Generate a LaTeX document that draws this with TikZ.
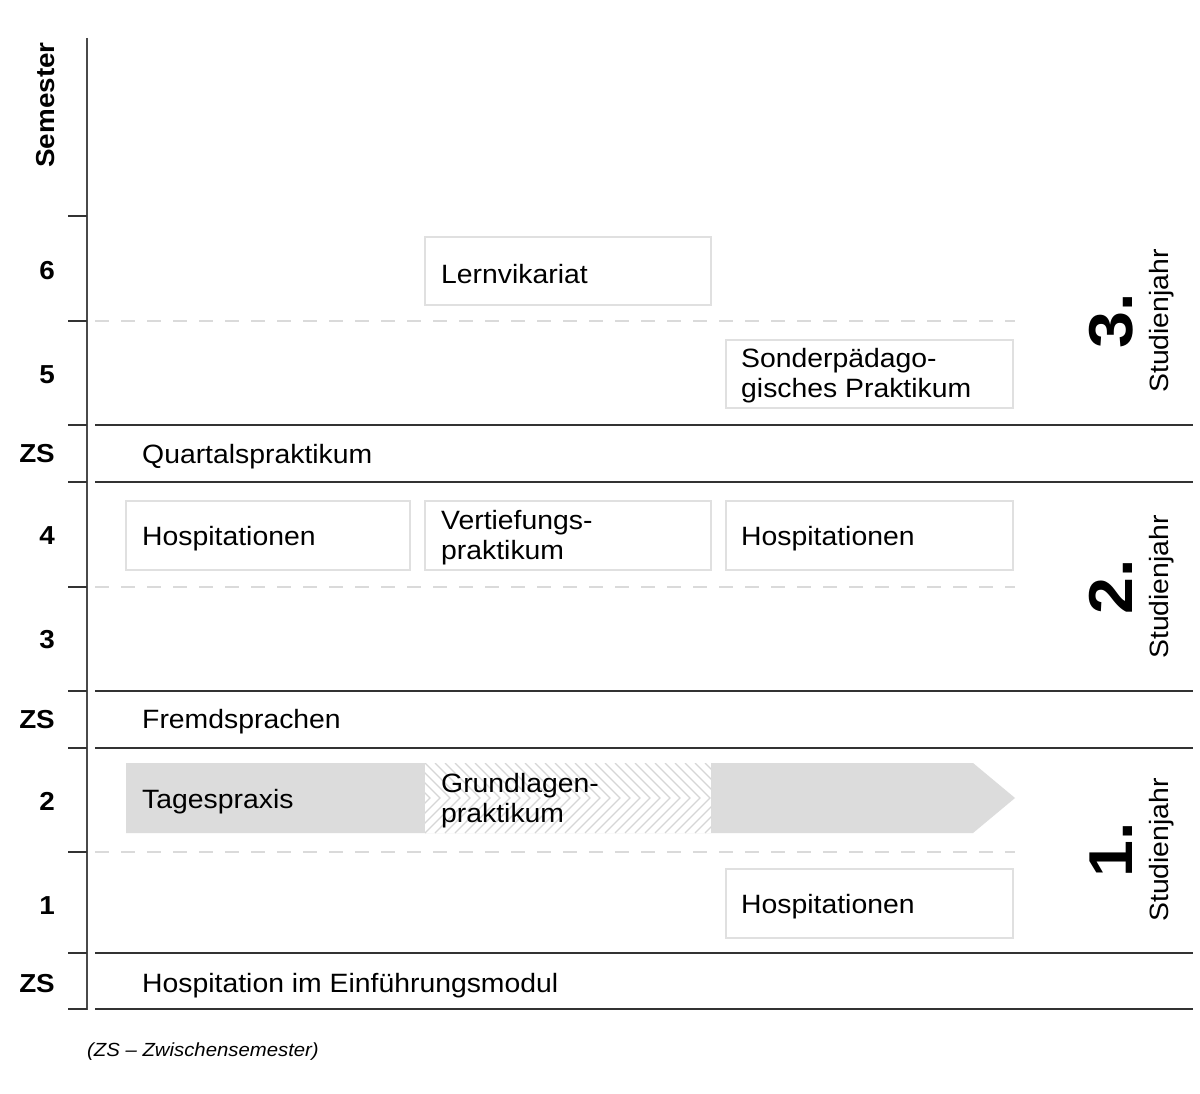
\documentclass[tikz,border=0pt]{standalone}
\usepackage{fontspec}
\setmainfont[FakeStretch=1.07]{Liberation Sans}
\definecolor{axisgray}{HTML}{4A4A4A}
\definecolor{linegray}{HTML}{333333}
\definecolor{boxgray}{HTML}{E0E0E0}
\definecolor{dashgray}{HTML}{DADADA}
\definecolor{fillgray}{HTML}{DCDCDC}
\definecolor{hatchgray}{HTML}{D6D6D6}
\tikzset{
  semlabel/.style={anchor=east, inner sep=0pt, font=\fontsize{26}{30}\selectfont\bfseries},
  item/.style={anchor=west, inner sep=0pt, align=left, font=\fontsize{26.5}{30}\selectfont},
  pbox/.style={draw=boxgray, line width=1.5pt, fill=white},
  rowline/.style={draw=linegray, line width=1.4pt},
  tickline/.style={draw=linegray, line width=1.4pt},
  dashline/.style={draw=dashgray, line width=1.2pt, dash pattern=on 14pt off 12pt},
  yearnum/.style={rotate=90, anchor=base, inner sep=0pt, font=\fontsize{62}{64}\selectfont\bfseries},
  yearword/.style={rotate=90, anchor=base, inner sep=0pt, font=\fontsize{26.5}{28}\selectfont},
}
\begin{document}
\begin{tikzpicture}[x=1pt,y=-1pt]
\useasboundingbox[fill=white] (0,0) rectangle (1200,1094);

% axis
\draw[draw=axisgray, line width=1.6pt] (87,38) -- (87,1010);
\foreach \y in {216,321,425,482,587,691,748,852,953,1009}
  \draw[tickline] (68,\y) -- (87,\y);

% solid row lines
\foreach \y in {425,482,691,748,953,1009}
  \draw[rowline] (95,\y) -- (1193,\y);

% dashed lines
\foreach \y in {321,587,852}
  \draw[dashline] (95,\y) -- (1015,\y);

% semester labels
\node[semlabel, rotate=90, anchor=center] (sem) at (46,105) {Semester};
\node[semlabel] (s6) at (55,271) {6};
\node[semlabel] (s5) at (55,375) {5};
\node[semlabel] (zs3) at (55,454) {ZS};
\node[semlabel] (s4) at (55,536) {4};
\node[semlabel] (s3) at (55,640) {3};
\node[semlabel] (zs2) at (55,720) {ZS};
\node[semlabel] (s2) at (55,801) {2};
\node[semlabel] (s1) at (55,906) {1};
\node[semlabel] (zs1) at (55,984) {ZS};

% boxes
\draw[pbox] (425,237) rectangle (711,305);
\node[item] (lern) at (441,274) {Lernvikariat};
\draw[pbox] (726,340) rectangle (1013,408);
\node[item] (sonder) at (741,376) {Sonderpädago-\\gisches Praktikum};

\node[item] (quartal) at (142,457) {Quartalspraktikum};

\draw[pbox] (126,501) rectangle (410,570);
\node[item] (hosp1) at (142,539) {Hospitationen};
\draw[pbox] (425,501) rectangle (711,570);
\node[item] (vert) at (441,538) {Vertiefungs-\\praktikum};
\draw[pbox] (726,501) rectangle (1013,570);
\node[item] (hosp2) at (741,539) {Hospitationen};

\node[item] (fremd) at (142,722) {Fremdsprachen};

% Tagespraxis arrow
\fill[fillgray] (126,763) -- (973,763) -- (1015,798) -- (973,833) -- (126,833) -- cycle;
\fill[white] (425,763) rectangle (711,833);
\begin{scope}
  \clip (425,763) rectangle (711,833);
  \foreach \k in {-4,...,29} {
    \draw[hatchgray, line width=1.2pt] (425+10*\k,763) -- (460+10*\k,798) -- (425+10*\k,833);
  }
\end{scope}
\node[item] (tages) at (142,802) {Tagespraxis};
\node[item] (grund) at (441,801) {Grundlagen-\\praktikum};

\draw[pbox] (726,869) rectangle (1013,938);
\node[item] (hosp3) at (741,907) {Hospitationen};

\node[item] (einf) at (142,986) {Hospitation im Einführungsmodul};

% years
\node[yearnum] (y3) at (1132,321) {3.};
\node[yearword] (w3) at (1168,321) {Studienjahr};
\node[yearnum] (y2) at (1132,587) {2.};
\node[yearword] (w2) at (1168,587) {Studienjahr};
\node[yearnum] (y1) at (1132,850) {1.};
\node[yearword] (w1) at (1168,850) {Studienjahr};

% footnote
\node[anchor=west, inner sep=0pt, font=\fontsize{19}{22}\selectfont\itshape] (foot) at (87,1052) {(ZS – Zwischensemester)};
\end{tikzpicture}
\end{document}
